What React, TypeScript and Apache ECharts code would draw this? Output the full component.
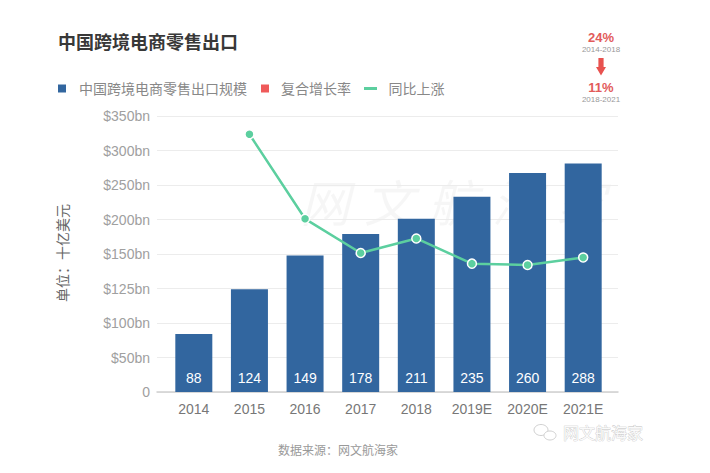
import React, { useEffect, useRef } from 'react';
import * as echarts from 'echarts';

// ---- data ----
const categories = ['2014', '2015', '2016', '2017', '2018', '2019E', '2020E', '2021E'];
// printed values on bars (十亿美元)
const exportValueLabels = [88, 124, 149, 178, 211, 235, 260, 288];
// bar tops read against the printed (non-uniform) axis scale, $bn
const exportBarReading = [84, 124.5, 149, 179, 201, 233, 267.5, 281];
// "同比上涨" line points read against the same printed axis, $bn
const yoyLineReading: (number | null)[] = [null, 323.5, 201, 151.5, 172.5, 143, 142, 147.5];
// printed axis ticks (equally spaced on the chart)
const tickValues = [0, 50, 100, 125, 150, 200, 250, 300, 350];
const tickLabels = ['0', '$50bn', '$100bn', '$125bn', '$150bn', '$200bn', '$250bn', '$300bn', '$350bn'];

const seriesNames = ['中国跨境电商零售出口规模', '复合增长率', '同比上涨'];
const cagrValues = ['24%', '11%'];
const cagrPeriods = ['2014-2018', '2018-2021'];

const BAR = '#32669f';
const RED = '#e8524f';
const GREEN = '#5ccf9f';
const FONT = "'Liberation Sans', 'Noto Sans CJK SC', sans-serif";

function toAxis(v: number | null): number | null {
  if (v == null) return null;
  for (let i = 1; i < tickValues.length; i++) {
    if (v <= tickValues[i]) {
      return i - 1 + (v - tickValues[i - 1]) / (tickValues[i] - tickValues[i - 1]);
    }
  }
  return tickValues.length - 1;
}

export default function App() {
  const ref = useRef<HTMLDivElement>(null);
  useEffect(() => {
    if (!ref.current) return;
    const chart = echarts.init(ref.current, undefined, { renderer: 'svg' });
    const T = (o: any) => ({ type: 'text', ...o, style: { fontFamily: FONT, ...o.style } });
    chart.setOption({
      animation: false,
      backgroundColor: '#fff',
      textStyle: { fontFamily: FONT },
      grid: [
        { left: 157, right: 92, top: 116, bottom: 81 },
        { left: 166, right: 99, top: 116, bottom: 81 },
      ],
      xAxis: [
        {
          gridIndex: 0, type: 'value', min: 0, max: 1, show: true,
          axisLine: { show: true, lineStyle: { color: '#cfcfcf', width: 1.5 } },
          axisTick: { show: false }, axisLabel: { show: false }, splitLine: { show: false },
        },
        {
          gridIndex: 1, type: 'category', data: categories,
          axisLine: { show: false }, axisTick: { show: false },
          axisLabel: { color: '#777', fontSize: 14, margin: 10, fontFamily: FONT },
        },
      ],
      yAxis: [
        {
          gridIndex: 0, type: 'value', min: 0, max: 8, interval: 1,
          axisLine: { show: false }, axisTick: { show: false },
          axisLabel: {
            color: '#a0a0a0', fontSize: 14, margin: 7, fontFamily: FONT,
            formatter: (v: number) => tickLabels[Math.round(v)] ?? '',
          },
          splitLine: { lineStyle: { color: '#ececec', width: 1 } },
        },
        { gridIndex: 1, type: 'value', min: 0, max: 8, show: false, splitLine: { show: false } },
      ],
      series: [
        {
          name: seriesNames[0], type: 'bar', xAxisIndex: 1, yAxisIndex: 1,
          barWidth: 37, itemStyle: { color: BAR },
          data: exportBarReading.map(toAxis),
          label: {
            show: true, position: 'insideBottom', distance: 7, color: '#fff', fontSize: 14,
            fontFamily: FONT, formatter: (p: any) => String(exportValueLabels[p.dataIndex]),
          },
          z: 2,
        },
        {
          name: seriesNames[2], type: 'line', xAxisIndex: 1, yAxisIndex: 1,
          data: yoyLineReading.map(toAxis),
          symbol: 'circle', symbolSize: 9,
          itemStyle: { color: GREEN, borderColor: '#fff', borderWidth: 1.5 },
          lineStyle: { color: GREEN, width: 2.5 },
          z: 3,
        },
      ],
      graphic: [
        // faint centre watermark
        T({ x: 300, y: 205, z: -1, style: { text: '网 文 航 海 家', fontSize: 50, fontStyle: 'italic', fill: 'rgba(0,0,0,0.035)', align: 'left', verticalAlign: 'middle', textAlign: 'left', textVerticalAlign: 'middle' } }),
        // title
        T({ x: 58, y: 43, style: { text: '中国跨境电商零售出口', fontSize: 18, fontWeight: 'bold', fill: '#383838', align: 'left', verticalAlign: 'middle', textAlign: 'left', textVerticalAlign: 'middle' } }),
        // legend
        { type: 'rect', shape: { x: 58, y: 84.5, width: 8, height: 8 }, style: { fill: BAR } },
        T({ x: 79, y: 88.5, style: { text: seriesNames[0], fontSize: 14, fill: '#888', align: 'left', verticalAlign: 'middle', textAlign: 'left', textVerticalAlign: 'middle' } }),
        { type: 'rect', shape: { x: 261, y: 84.5, width: 8, height: 8 }, style: { fill: '#ef5a5a' } },
        T({ x: 281, y: 88.5, style: { text: seriesNames[1], fontSize: 14, fill: '#888', align: 'left', verticalAlign: 'middle', textAlign: 'left', textVerticalAlign: 'middle' } }),
        { type: 'line', shape: { x1: 364, y1: 88.5, x2: 377, y2: 88.5 }, style: { stroke: GREEN, lineWidth: 3 } },
        T({ x: 388.5, y: 88.5, style: { text: seriesNames[2], fontSize: 14, fill: '#888', align: 'left', verticalAlign: 'middle', textAlign: 'left', textVerticalAlign: 'middle' } }),
        // CAGR annotation
        T({ x: 601, y: 37, style: { text: cagrValues[0], fontSize: 13, fontWeight: 'bold', fill: '#e25b5b', align: 'center', verticalAlign: 'middle', textAlign: 'center', textVerticalAlign: 'middle' } }),
        T({ x: 601, y: 49.5, style: { text: cagrPeriods[0], fontSize: 8, fill: '#999', align: 'center', verticalAlign: 'middle', textAlign: 'center', textVerticalAlign: 'middle' } }),
        {
          type: 'polygon',
          shape: { points: [[598.4, 58], [603.6, 58], [603.6, 67], [606, 67], [601, 75.5], [596, 67], [598.4, 67]] },
          style: { fill: RED },
        },
        T({ x: 601, y: 87.5, style: { text: cagrValues[1], fontSize: 13, fontWeight: 'bold', fill: '#e25b5b', align: 'center', verticalAlign: 'middle', textAlign: 'center', textVerticalAlign: 'middle' } }),
        T({ x: 601, y: 99.5, style: { text: cagrPeriods[1], fontSize: 8, fill: '#999', align: 'center', verticalAlign: 'middle', textAlign: 'center', textVerticalAlign: 'middle' } }),
        // y axis unit
        T({ x: 63, y: 253, rotation: Math.PI / 2, style: { text: '单位：十亿美元', fontSize: 14, fill: '#666', align: 'center', verticalAlign: 'middle', textAlign: 'center', textVerticalAlign: 'middle' } }),
        // source
        T({ x: 338, y: 451, style: { text: '数据来源：网文航海家', fontSize: 12, fill: '#999', align: 'center', verticalAlign: 'middle', textAlign: 'center', textVerticalAlign: 'middle' } }),
        // bottom-right watermark
        { type: 'ellipse', shape: { cx: 541, cy: 430, rx: 7, ry: 5.5 }, style: { fill: '#fff', stroke: '#c4c4c4', lineWidth: 0.8 } },
        { type: 'ellipse', shape: { cx: 550, cy: 435.5, rx: 6, ry: 4.5 }, style: { fill: '#fff', stroke: '#c4c4c4', lineWidth: 0.8 } },
        T({ x: 563, y: 433, style: { text: '网文航海家', fontSize: 16, fill: '#fafafa', stroke: '#c0c0c0', lineWidth: 0.6, align: 'left', verticalAlign: 'middle', textAlign: 'left', textVerticalAlign: 'middle' } }),
      ],
    });
    return () => chart.dispose();
  }, []);
  return (
    <div
      ref={ref}
      style={{ position: 'fixed', left: 0, top: 0, width: 710, height: 473, background: '#fff' }}
    />
  );
}
